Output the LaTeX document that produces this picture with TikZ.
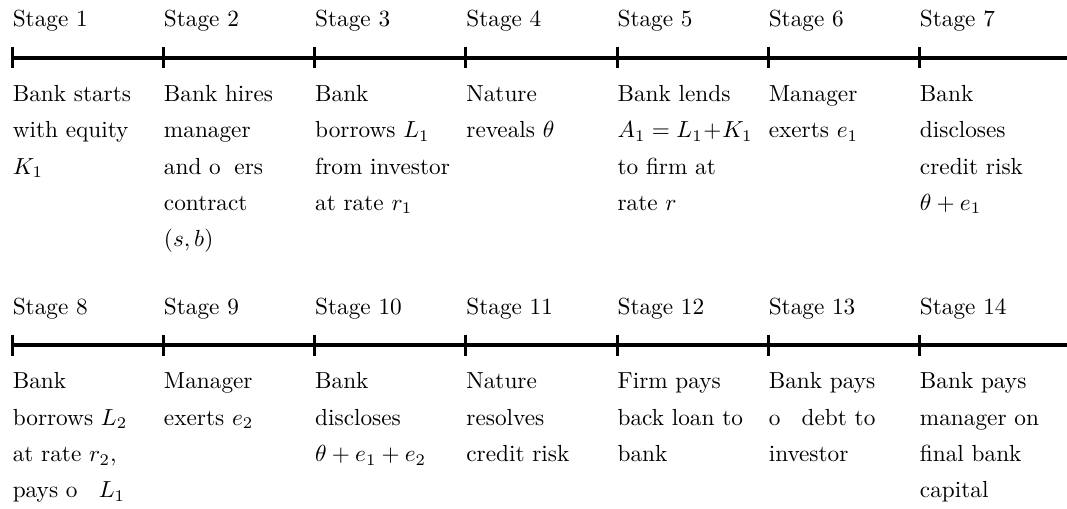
\documentclass[tikz,border=0pt]{standalone}
\begin{document}
\begin{tikzpicture}[
x=1pt,y=1pt,
axis/.style={line width=1.7pt},
tick/.style={line width=1.3pt},
stage/.style={anchor=base west,inner sep=0pt},
event/.style={anchor=north west,inner sep=0pt,text width=58pt,align=left,
  font=\linespread{1.3}\selectfont}
]
\useasboundingbox (0,0) rectangle (458.7,-218.4);
% first time line
\coordinate (t1) at (5.3,-24.9);
\coordinate (t2) at (70.3,-24.9);
\coordinate (t3) at (135.3,-24.9);
\coordinate (t4) at (200.3,-24.9);
\coordinate (t5) at (265.3,-24.9);
\coordinate (t6) at (330.3,-24.9);
\coordinate (t7) at (395.3,-24.9);
\coordinate (endA) at (458.7,-24.9);
\draw[axis] (t1) -- (endA);
\draw[tick] ([yshift=4.5pt]t1) -- ([yshift=-4.5pt]t1);
\draw[tick] ([yshift=4.5pt]t2) -- ([yshift=-4.5pt]t2);
\draw[tick] ([yshift=4.5pt]t3) -- ([yshift=-4.5pt]t3);
\draw[tick] ([yshift=4.5pt]t4) -- ([yshift=-4.5pt]t4);
\draw[tick] ([yshift=4.5pt]t5) -- ([yshift=-4.5pt]t5);
\draw[tick] ([yshift=4.5pt]t6) -- ([yshift=-4.5pt]t6);
\draw[tick] ([yshift=4.5pt]t7) -- ([yshift=-4.5pt]t7);
\node[stage] (s1) at ([yshift=13.5pt]t1) {Stage 1};
\node[stage] (s2) at ([yshift=13.5pt]t2) {Stage 2};
\node[stage] (s3) at ([yshift=13.5pt]t3) {Stage 3};
\node[stage] (s4) at ([yshift=13.5pt]t4) {Stage 4};
\node[stage] (s5) at ([yshift=13.5pt]t5) {Stage 5};
\node[stage] (s6) at ([yshift=13.5pt]t6) {Stage 6};
\node[stage] (s7) at ([yshift=13.5pt]t7) {Stage 7};
\node[event] (e1) at ([yshift=-7.6pt]t1) {\strut Bank starts\\ with equity\\ $K_1$};
\node[event] (e2) at ([yshift=-7.6pt]t2) {\strut Bank hires\\ manager\\ and o\phantom{ff}ers\\ contract\\ $(s,b)$};
\node[event] (e3) at ([yshift=-7.6pt]t3) {\strut Bank\\ borrows $L_1$\\ from investor\\ at rate $r_1$};
\node[event] (e4) at ([yshift=-7.6pt]t4) {\strut Nature\\ reveals $\theta$};
\node[event] (e5) at ([yshift=-7.6pt]t5) {\strut Bank lends\\ $A_1=L_1+K_1$\\ to firm at\\ rate $r$};
\node[event] (e6) at ([yshift=-7.6pt]t6) {\strut Manager\\ exerts $e_1$};
\node[event] (e7) at ([yshift=-7.6pt]t7) {\strut Bank\\ discloses\\ credit risk\\ $\theta+e_1$};
% second time line
\coordinate (t8) at (5.3,-148.5);
\coordinate (t9) at (70.3,-148.5);
\coordinate (t10) at (135.3,-148.5);
\coordinate (t11) at (200.3,-148.5);
\coordinate (t12) at (265.3,-148.5);
\coordinate (t13) at (330.3,-148.5);
\coordinate (t14) at (395.3,-148.5);
\coordinate (endB) at (458.7,-148.5);
\draw[axis] (t8) -- (endB);
\draw[tick] ([yshift=4.5pt]t8) -- ([yshift=-4.5pt]t8);
\draw[tick] ([yshift=4.5pt]t9) -- ([yshift=-4.5pt]t9);
\draw[tick] ([yshift=4.5pt]t10) -- ([yshift=-4.5pt]t10);
\draw[tick] ([yshift=4.5pt]t11) -- ([yshift=-4.5pt]t11);
\draw[tick] ([yshift=4.5pt]t12) -- ([yshift=-4.5pt]t12);
\draw[tick] ([yshift=4.5pt]t13) -- ([yshift=-4.5pt]t13);
\draw[tick] ([yshift=4.5pt]t14) -- ([yshift=-4.5pt]t14);
\node[stage] (s8) at ([yshift=13.5pt]t8) {Stage 8};
\node[stage] (s9) at ([yshift=13.5pt]t9) {Stage 9};
\node[stage] (s10) at ([yshift=13.5pt]t10) {Stage 10};
\node[stage] (s11) at ([yshift=13.5pt]t11) {Stage 11};
\node[stage] (s12) at ([yshift=13.5pt]t12) {Stage 12};
\node[stage] (s13) at ([yshift=13.5pt]t13) {Stage 13};
\node[stage] (s14) at ([yshift=13.5pt]t14) {Stage 14};
\node[event] (e8) at ([yshift=-7.6pt]t8) {\strut Bank\\ borrows $L_2$\\ at rate $r_2$,\\ pays o\phantom{ff} $L_1$};
\node[event] (e9) at ([yshift=-7.6pt]t9) {\strut Manager\\ exerts $e_2$};
\node[event] (e10) at ([yshift=-7.6pt]t10) {\strut Bank\\ discloses\\ $\theta+e_1+e_2$};
\node[event] (e11) at ([yshift=-7.6pt]t11) {\strut Nature\\ resolves\\ credit risk};
\node[event] (e12) at ([yshift=-7.6pt]t12) {\strut Firm pays\\ back loan to\\ bank};
\node[event] (e13) at ([yshift=-7.6pt]t13) {\strut Bank pays\\ o\phantom{ff} debt to\\ investor};
\node[event] (e14) at ([yshift=-7.6pt]t14) {\strut Bank pays\\ manager on\\ final bank\\ capital};
\end{tikzpicture}
\end{document}
